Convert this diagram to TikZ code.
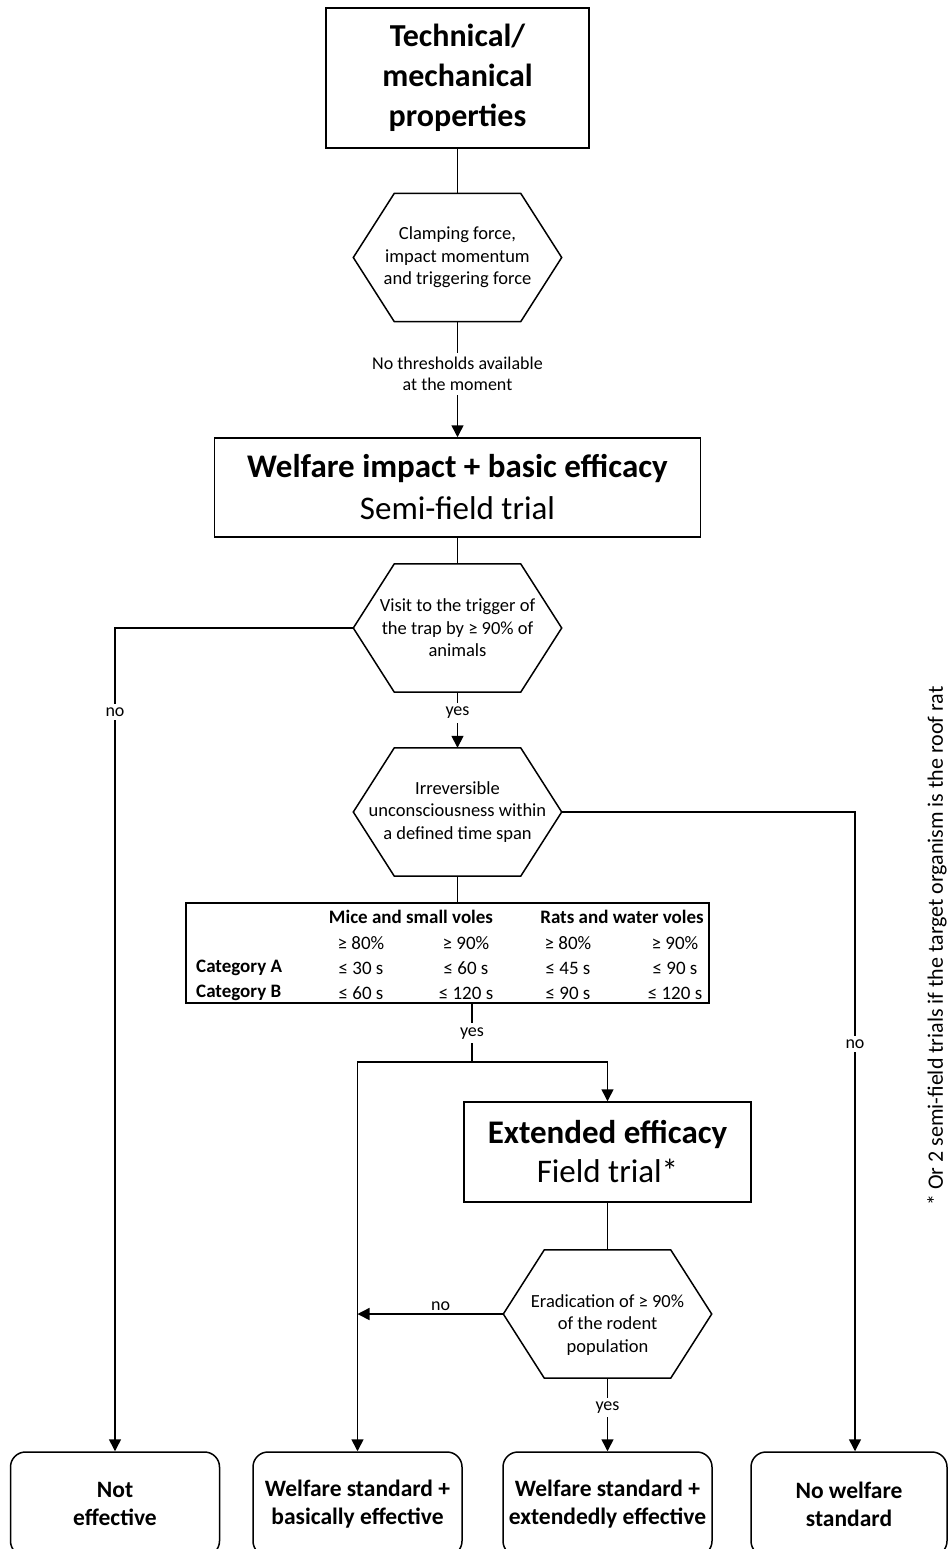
\documentclass[tikz,border=0pt]{standalone}
\usepackage{fontspec}
\setmainfont{Carlito}
\usetikzlibrary{arrows.meta,calc}
\newcommand\hexoutline[1]{\draw[ln, line join=miter] (#1.west) -- ([xshift=41pt]#1.north west) -- ([xshift=-41pt]#1.north east) -- (#1.east) -- ([xshift=-41pt]#1.south east) -- ([xshift=41pt]#1.south west) -- cycle;}
\tikzset{
 ln/.style={line width=1.5pt, draw=black},
 arr/.style={ln, -{Triangle[width=12pt,length=12pt]}},
 box/.style={draw, line width=1.5pt, rectangle, inner sep=0pt, align=center},
 hexbox/.style={rectangle, minimum width=208pt, minimum height=128pt, inner sep=0pt, align=center, font=\fontsize{18.5}{22.5}\selectfont},
 hextext/.style={inner sep=0pt, align=center, font=\fontsize{18.5}{22.5}\selectfont},
 lab/.style={fill=white, inner sep=4pt, align=center, font=\fontsize{18}{21}\selectfont},
 endbox/.style={draw, line width=1.5pt, rounded corners=15pt, minimum height=104pt, inner sep=0pt, align=center, font=\bfseries\fontsize{23.5}{28}\selectfont},
 tcell/.style={inner sep=0pt, font=\fontsize{19}{23}\selectfont},
 thead/.style={inner sep=0pt, font=\bfseries\fontsize{19}{23}\selectfont},
}
\begin{document}
\begin{tikzpicture}[x=1pt,y=-1pt]
\useasboundingbox (0,0) rectangle (949,1549);
\clip (0,0) rectangle (949,1549);
\fill[white] (0,0) rectangle (949,1549);

% main column
\node[box, minimum width=263pt, minimum height=140pt, font=\bfseries\fontsize{32}{40}\selectfont] (top) at (457.5,78) {Technical/\\mechanical\\properties};
\node[hexbox] (h1) at (457.5,257.5) {Clamping force,\\impact momentum\\and triggering force};
\hexoutline{h1}
\node[box, minimum width=486pt, minimum height=99pt, font=\fontsize{33}{42}\selectfont] (wel) at (457.5,487.5) {\textbf{Welfare impact + basic efficacy}\\Semi-field trial};
\node[hexbox] (h2) at (457.5,628) {Visit to the trigger of\\the trap by ≥ 90\% of\\animals};
\hexoutline{h2}
\node[hexbox] (h3) at (457.5,812) {Irreversible\\unconsciousness within\\a defined time span};
\hexoutline{h3}

% table
\node[draw, line width=2.5pt, minimum width=523pt, minimum height=100pt, inner sep=0pt] (tbl) at (447.5,953) {};
\node[thead] (hm) at (411,917) {Mice and small voles};
\node[thead] (hr) at (622,917) {Rats and water voles};
\node[tcell] (p1) at (361,943) {≥ 80\%};
\node[tcell] (p2) at (466,943) {≥ 90\%};
\node[tcell] (p3) at (568,943) {≥ 80\%};
\node[tcell] (p4) at (675,943) {≥ 90\%};
\node[thead, anchor=west] (ca) at (196,968) {Category A};
\node[tcell] (a1) at (361,968) {≤ 30 s};
\node[tcell] (a2) at (466,968) {≤ 60 s};
\node[tcell] (a3) at (568,968) {≤ 45 s};
\node[tcell] (a4) at (675,968) {≤ 90 s};
\node[thead, anchor=west] (cb) at (196,993) {Category B};
\node[tcell] (b1c) at (361,993) {≤ 60 s};
\node[tcell] (b2c) at (466,993) {≤ 120 s};
\node[tcell] (b3c) at (568,993) {≤ 90 s};
\node[tcell] (b4c) at (675,993) {≤ 120 s};

% extended
\node[box, minimum width=287pt, minimum height=100pt, font=\fontsize{33}{39}\selectfont] (ext) at (607.5,1152) {\textbf{Extended efficacy}\\Field trial*};
\node[hexbox] (h4) at (607.5,1314) {};
\hexoutline{h4}
\node[hextext] (h4t) at (607.5,1325) {Eradication of ≥ 90\%\\of the rodent\\population};

% end boxes
\node[endbox, minimum width=209pt] (b1) at (115,1504) {Not\\effective};
\node[endbox, minimum width=209pt] (b2) at (357.5,1504) {Welfare standard +\\basically effective};
\node[endbox, minimum width=209pt] (b3) at (607.5,1504) {Welfare standard +\\extendedly effective};
\node[endbox, minimum width=196pt] (b4) at (849,1504) {No welfare\\standard};

% side note
\node[rotate=90, inner sep=0pt, font=\fontsize{22}{26}\selectfont] (note) at (937,946) {* Or 2 semi-field trials if the target organism is the roof rat};

% connectors
\coordinate (cl) at (115,628);
\coordinate (cr) at (855,812);
\coordinate (ys) at (472,1062);
\coordinate (yl) at (357.5,1062);
\coordinate (yr) at (607.5,1062);

\draw[ln] (top.south) -- (h1.north);
\draw[arr] (h1.south) -- node[lab, pos=0.45] {No thresholds available\\at the moment} (wel.north);
\draw[ln] (wel.south) -- (h2.north);
\draw[arr] (h2.west) -- (cl) -- node[lab, pos=0.102] {no} (cl |- b1.north);
\draw[arr] (h2.south) -- node[lab, pos=0.37] {yes} (h3.north);
\draw[arr] (h3.east) -- (cr) -- node[lab, pos=0.363] {no} (cr |- b4.north);
\draw[ln] (h3.south) -- (h3.south |- tbl.north);
\draw[ln] (ys |- tbl.south) -- node[lab, pos=0.5] {yes} (ys);
\draw[arr] (ys) -- (yl) -- (yl |- b2.north);
\draw[arr] (ys) -- (yr) -- (ext.north);
\draw[ln] (ext.south) -- (h4.north);
\draw[arr] (h4.west) -- node[above, pos=0.43, inner sep=3pt, font=\fontsize{18}{21}\selectfont] {no} (h4.west -| yl);
\draw[arr] (h4.south) -- node[lab, pos=0.4] {yes} (b3.north);
\end{tikzpicture}
\end{document}
